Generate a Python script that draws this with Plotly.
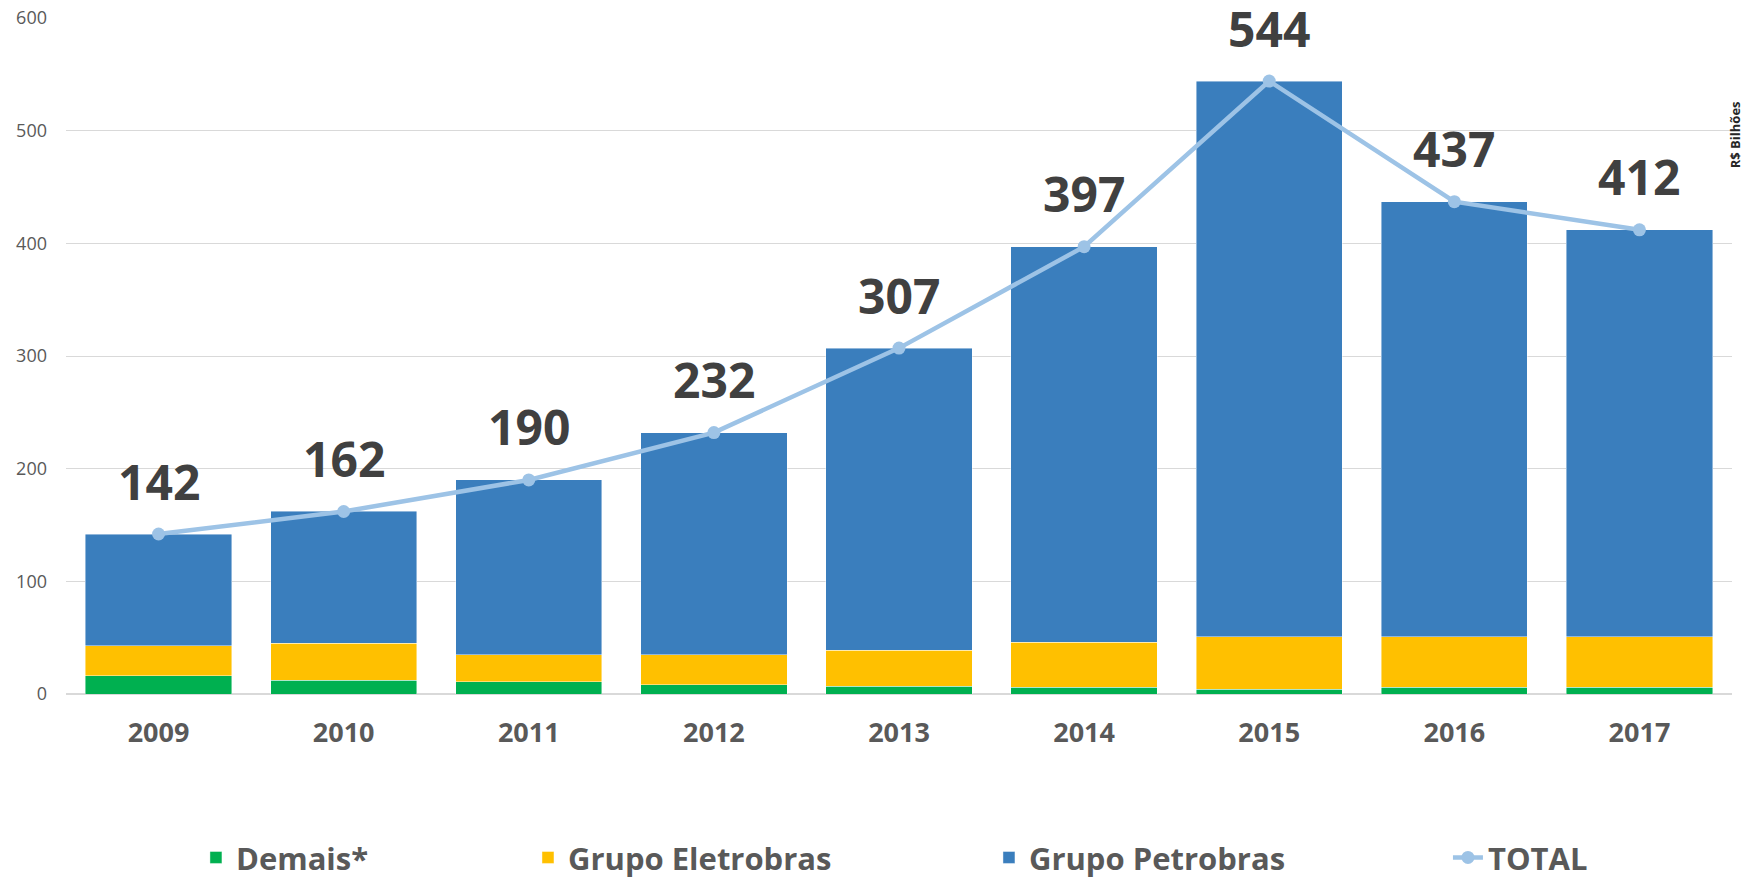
import plotly.graph_objects as go

years = [2009, 2010, 2011, 2012, 2013, 2014, 2015, 2016, 2017]
year_labels = ["2009", "2010", "2011", "2012", "2013", "2014", "2015", "2016", "2017"]
demais = [16, 12, 11, 8, 7, 6, 4, 6, 6]
eletrobras = [27, 33, 24, 27, 32, 40, 47, 45, 45]
petrobras = [99, 117, 155, 197, 268, 351, 493, 386, 361]
total = [142, 162, 190, 232, 307, 397, 544, 437, 412]

FONT = "Open Sans"
GREY = "#595959"

fig = go.Figure()
bar_line = dict(width=0.8, color="rgba(255,255,255,0.55)")
fig.add_trace(go.Bar(x=years, y=demais, name="Demais*", marker=dict(color="#00B050", line=bar_line), legend="legend"))
fig.add_trace(go.Bar(x=years, y=eletrobras, name="Grupo Eletrobras", marker=dict(color="#FFC000", line=bar_line), legend="legend2"))
fig.add_trace(go.Bar(x=years, y=petrobras, name="Grupo Petrobras", marker=dict(color="#3A7EBD", line=bar_line), legend="legend3"))
fig.add_trace(go.Scatter(x=years, y=total, name="TOTAL", mode="lines+markers",
                         line=dict(color="#9DC3E6", width=4.5),
                         marker=dict(color="#9DC3E6", size=13), legend="legend4"))

for yr, t in zip(years, total):
    fig.add_annotation(x=yr, y=t, xref="x", yref="y", text=f"<b>{t}</b>", showarrow=False, yshift=53,
                       yanchor="middle", font=dict(family=FONT, size=48, color="#404040"))

fig.add_annotation(xref="paper", yref="paper", x=1.0018, y=0.828, text="<b>R$ Bilhões</b>",
                   showarrow=False, textangle=-90, xanchor="center", yanchor="middle",
                   font=dict(family=FONT, size=13, color="#262626"))

leg_common = dict(orientation="h", yref="container", yanchor="middle", y=0.023, xanchor="left",
                  font=dict(family=FONT, size=31, color=GREY, weight="bold"),
                  bgcolor="rgba(0,0,0,0)")
fig.update_layout(
    width=1744, height=878,
    margin=dict(l=66, r=12, t=18, b=184),
    barmode="stack", bargap=0.21,
    plot_bgcolor="white", paper_bgcolor="white",
    hovermode=False,
    showlegend=True,
    legend=dict(x=0.078, **leg_common),
    legend2=dict(x=0.2773, **leg_common),
    legend3=dict(x=0.554, **leg_common),
    legend4=dict(x=0.8295, **leg_common),
    xaxis=dict(type="linear", range=[2008.5, 2017.5], tickmode="array", tickvals=years,
               ticktext=year_labels, automargin=False,
               showgrid=False, showline=False, ticks="", zeroline=False,
               tickfont=dict(family=FONT, size=27, color=GREY, weight="bold"),
               ticklabelstandoff=20),
    yaxis=dict(type="linear", range=[0, 600], dtick=100, showgrid=True, gridcolor="#D9D9D9", gridwidth=1,
               zeroline=True, zerolinecolor="#D9D9D9", zerolinewidth=1.5,
               showline=False, ticks="", automargin=False,
               tickfont=dict(family=FONT, size=18, color=GREY),
               ticklabelstandoff=18),
)

fig.write_html("out.html", config={"displayModeBar": False},
               post_script="document.body.style.margin='0';document.body.style.overflow='hidden';")
